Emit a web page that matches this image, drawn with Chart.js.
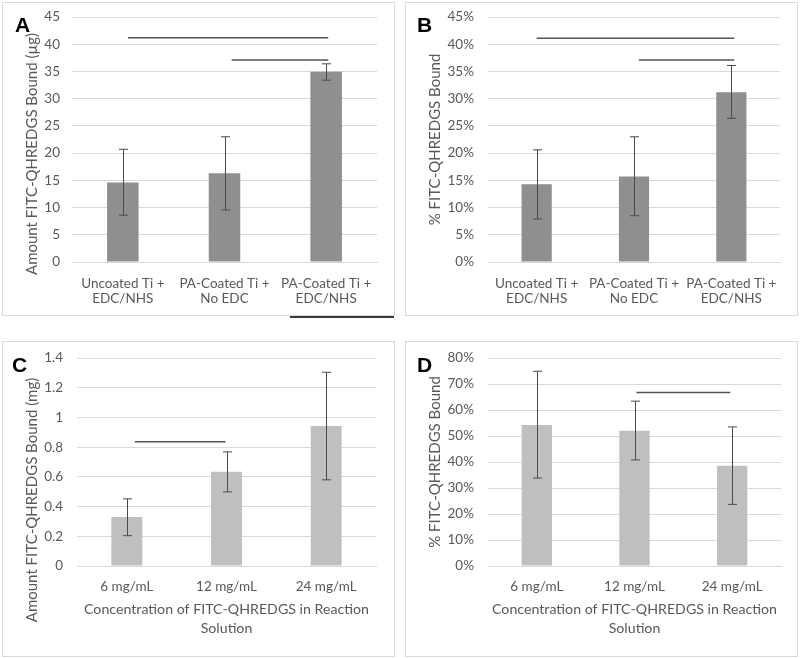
<!DOCTYPE html>
<html lang="en">
<head>
<meta charset="UTF-8">
<title>FITC-QHREDGS binding</title>
<script src="https://cdn.jsdelivr.net/npm/chart.js@4/dist/chart.umd.min.js"></script>
<style>
    * { margin: 0; padding: 0; box-sizing: content-box; }
    body { width: 800px; height: 658px; background: #fff; position: relative; overflow: hidden; }
    .panel { position: absolute; border: 1px solid #d9d9d9; width: 391px; }
    .panel canvas { display: block; }
    .tag {
        position: absolute;
        font-family: "Liberation Sans", Arial, sans-serif;
        font-weight: bold;
        font-size: 21px;
        line-height: 21px;
        color: #000;
    }
    .stray { position: absolute; left: 290px; top: 316px; width: 104px; height: 1.5px; background: #3a3a3a; }
</style>
</head>
<body>
    <div class="panel" style="left:2px; top:2px; height:312px;"><canvas id="chartA"></canvas></div>
    <div class="panel" style="left:405px; top:2px; height:312px;"><canvas id="chartB"></canvas></div>
    <div class="panel" style="left:2px; top:341px; height:314px;"><canvas id="chartC"></canvas></div>
    <div class="panel" style="left:405px; top:341px; height:314px;"><canvas id="chartD"></canvas></div>
    <div class="stray"></div>
    <div class="tag" style="left:15px; top:14px;">A</div>
    <div class="tag" style="left:417px; top:14px;">B</div>
    <div class="tag" style="left:12px; top:354px;">C</div>
    <div class="tag" style="left:417px; top:354px;">D</div>

<script>
// categories
const surfaces = [['Uncoated Ti +', 'EDC/NHS'], ['PA-Coated Ti +', 'No EDC'], ['PA-Coated Ti +', 'EDC/NHS']];
const concentrations = ['6 mg/mL', '12 mg/mL', '24 mg/mL'];

// A: amount bound (µg)
const amountA = [14.6, 16.3, 34.95];
const lowA = [8.6, 9.55, 33.4];
const highA = [20.7, 23.0, 36.4];
const sigA = [[0.05, 2.02, 41.2], [1.07, 2.02, 37.1]];

// B: % bound
const percentB = [14.3, 15.7, 31.2];
const lowB = [7.9, 8.5, 26.4];
const highB = [20.6, 23.0, 36.1];
const sigB = [[0.0, 2.03, 41.1], [1.05, 2.03, 37.1]];

// C: amount bound (mg)
const amountC = [0.33, 0.634, 0.943];
const lowC = [0.204, 0.499, 0.58];
const highC = [0.452, 0.768, 1.304];
const sigC = [[0.08, 0.99, 0.837]];

// D: % bound
const percentD = [54.2, 52.0, 38.6];
const lowD = [33.8, 40.8, 23.7];
const highD = [74.9, 63.4, 53.5];
const sigD = [[1.02, 1.98, 66.7]];

const textColor = '#595959';
const gridColor = '#d9d9d9';
const tickFont = { family: 'Lato', size: 13.5, lineHeight: 15 / 13.5 };
const yTitleSize = 15;
const xTitleSize = 14.2;

// error bars + significance lines + rotated y title
const extras = {
    id: 'extras',
    afterDatasetsDraw(chart, args, opts) {
        const ctx = chart.ctx;
        const xs = chart.scales.x, ys = chart.scales.y;
        const bars = chart.getDatasetMeta(0).data;
        ctx.save();
        ctx.strokeStyle = '#4a4a4a';
        ctx.lineWidth = 1;
        bars.forEach((bar, i) => {
            const x = Math.round(bar.x) + 0.5;
            const yHi = ys.getPixelForValue(opts.high[i]);
            const yLo = ys.getPixelForValue(opts.low[i]);
            ctx.beginPath();
            ctx.moveTo(x, yHi); ctx.lineTo(x, yLo);
            ctx.moveTo(x - 4.5, yHi); ctx.lineTo(x + 4.5, yHi);
            ctx.moveTo(x - 4.5, yLo); ctx.lineTo(x + 4.5, yLo);
            ctx.stroke();
        });
        ctx.strokeStyle = '#555';
        ctx.lineWidth = 1.5;
        opts.sig.forEach(([a, b, v]) => {
            const y = ys.getPixelForValue(v);
            ctx.beginPath();
            ctx.moveTo(xs.getPixelForValue(a), y);
            ctx.lineTo(xs.getPixelForValue(b), y);
            ctx.stroke();
        });
        const area = chart.chartArea;
        const cy = opts.titleY != null ? opts.titleY : (area.top + area.bottom) / 2;
        ctx.translate(29.5, cy);
        ctx.rotate(-Math.PI / 2);
        ctx.fillStyle = textColor;
        ctx.font = yTitleSize + 'px Lato';
        ctx.textAlign = 'center';
        ctx.textBaseline = 'middle';
        ctx.fillText(opts.title, 0, 0);
        ctx.restore();
    }
};

function makeChart(id, p) {
    return new Chart(document.getElementById(id), {
        type: 'bar',
        data: {
            labels: p.labels,
            datasets: [{
                data: p.values,
                backgroundColor: p.color,
                categoryPercentage: 1,
                barPercentage: 0.31
            }]
        },
        options: {
            responsive: true,
            maintainAspectRatio: false,
            animation: false,
            layout: { padding: { left: 0, top: p.top, right: p.right, bottom: 0 } },
            plugins: {
                legend: { display: false },
                tooltip: { enabled: false },
                extras: { low: p.low, high: p.high, sig: p.sig, title: p.yTitle, titleY: p.titleY }
            },
            scales: {
                x: {
                    grid: { display: false, drawTicks: false },
                    border: { color: gridColor },
                    ticks: { color: textColor, font: tickFont, padding: p.xPad, maxRotation: 0, autoSkip: false },
                    title: p.xTitle ? {
                        display: true, text: p.xTitle, color: textColor,
                        font: { family: 'Lato', size: xTitleSize, lineHeight: 19 / xTitleSize },
                        padding: { top: 0, bottom: 18.5 }
                    } : { display: false },
                    afterFit(s) { s.height = p.xHeight; }
                },
                y: {
                    min: 0, max: p.max,
                    grid: { color: gridColor, drawTicks: false },
                    border: { display: false },
                    ticks: {
                        stepSize: p.step, color: textColor, font: tickFont, padding: p.yPad,
                        callback: p.fmt
                    },
                    afterFit(s) {
                        s.width = p.yWidth;
                        // keep the plot top/bottom where layout.padding puts it
                        s.paddingTop = 0;
                        s.paddingBottom = 0;
                    }
                }
            }
        },
        plugins: [extras]
    });
}

const pct = v => v + '%';
const dec = v => String(+v.toFixed(1));

makeChart('chartA', {
    labels: surfaces, values: amountA, low: lowA, high: highA, sig: sigA,
    color: '#8f8f8f', max: 45, step: 5, fmt: v => String(v),
    yTitle: 'Amount FITC-QHREDGS Bound (\u00b5g)', titleY: 151,
    top: 14, right: 17, yWidth: 69, yPad: 12, xHeight: 53, xPad: 14
});
makeChart('chartB', {
    labels: surfaces, values: percentB, low: lowB, high: highB, sig: sigB,
    color: '#8f8f8f', max: 45, step: 5, fmt: pct,
    yTitle: '% FITC-QHREDGS Bound',
    top: 14, right: 17, yWidth: 82, yPad: 14, xHeight: 53, xPad: 14
});
makeChart('chartC', {
    labels: concentrations, values: amountC, low: lowC, high: highC, sig: sigC,
    color: '#bfbfbf', max: 1.4, step: 0.2, fmt: dec,
    yTitle: 'Amount FITC-QHREDGS Bound (mg)', titleY: 158,
    xTitle: ['Concentration of FITC-QHREDGS in Reaction', 'Solution'],
    top: 16, right: 18, yWidth: 74, yPad: 14, xHeight: 90, xPad: 13
});
makeChart('chartD', {
    labels: concentrations, values: percentD, low: lowD, high: highD, sig: sigD,
    color: '#bfbfbf', max: 80, step: 10, fmt: pct,
    yTitle: '% FITC-QHREDGS Bound',
    xTitle: ['Concentration of FITC-QHREDGS in Reaction', 'Solution'],
    top: 16, right: 16, yWidth: 82, yPad: 14, xHeight: 90, xPad: 13
});
</script>
</body>
</html>
